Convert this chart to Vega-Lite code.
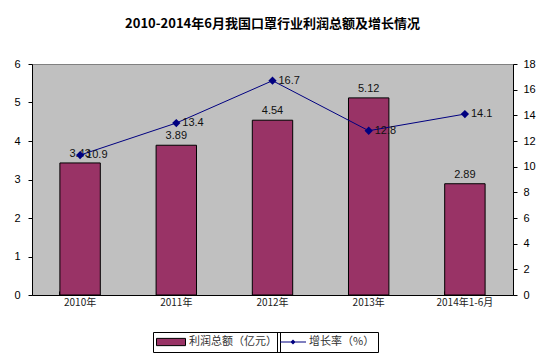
{
  "$schema": "https://vega.github.io/schema/vega-lite/v6.json",
  "width": 481,
  "height": 231,
  "autosize": {"type": "none"},
  "padding": {"left": 32, "top": 64, "right": 38, "bottom": 63},
  "background": "white",
  "title": {
    "text": "2010-2014年6月我国口罩行业利润总额及增长情况",
    "font": "Noto Sans CJK SC",
    "fontSize": 13,
    "fontWeight": "bold",
    "color": "black",
    "anchor": "middle",
    "offset": 27
  },
  "config": {
    "view": {"fill": "#c0c0c0", "stroke": "#808080", "strokeWidth": 1},
    "font": "Liberation Sans",
    "axis": {"grid": false, "domainColor": "black", "tickColor": "black", "labelColor": "black", "labelFont": "Liberation Sans", "labelFontSize": 11, "title": null},
    "legend": {"labelFont": "Noto Sans CJK SC", "labelFontSize": 11, "labelColor": "#333", "labelOffset": 3, "padding": 3, "clipHeight": 14, "strokeColor": "black", "title": null, "orient": "none"}
  },
  "data": {
    "values": [
      {"year": "2010年", "profit": 3.43, "growth": 10.9},
      {"year": "2011年", "profit": 3.89, "growth": 13.4},
      {"year": "2012年", "profit": 4.54, "growth": 16.7},
      {"year": "2013年", "profit": 5.12, "growth": 12.8},
      {"year": "2014年1-6月", "profit": 2.89, "growth": 14.1}
    ]
  },
  "encoding": {
    "x": {
      "field": "year", "type": "nominal", "sort": null,
      "scale": {"paddingInner": 0.58, "paddingOuter": 0.29},
      "axis": {"labelAngle": 0, "labelFont": "Noto Sans CJK SC", "labelFontSize": 10, "labelPadding": 6, "bandPosition": 0, "tickSize": -4, "domainColor": "black", "labelColor": "#222"}
    }
  },
  "layer": [
    {
      "encoding": {
        "y": {"field": "profit", "type": "quantitative", "scale": {"domain": [0, 6]}, "axis": {"orient": "left", "values": [0,1,2,3,4,5,6], "tickSize": 4, "labelPadding": 8, "labelOverlap": false}}
      },
      "layer": [
        {
          "mark": {"type": "bar", "stroke": "black", "strokeWidth": 1},
          "encoding": {
            "fill": {
              "datum": "利润总额（亿元）",
              "type": "nominal",
              "scale": {"domain": ["利润总额（亿元）"], "range": ["#993366"]},
              "legend": {
                "orient": "none",
                "legendX": 121,
                "legendY": 268,
                "symbolType": "M-1,-0.25H1V0.25H-1Z",
                "symbolSize": 841,
                "symbolStrokeColor": "black",
                "symbolStrokeWidth": 1
              }
            }
          }
        },
        {
          "mark": {"type": "text", "dy": -9, "fontSize": 11, "color": "#111", "font": "Liberation Sans"},
          "encoding": {
            "text": {"field": "profit", "type": "quantitative", "format": ".2f"}
          }
        }
      ]
    },
    {
      "encoding": {
        "y": {"field": "growth", "type": "quantitative", "scale": {"domain": [0, 18]}, "axis": {"orient": "right", "values": [0,2,4,6,8,10,12,14,16,18], "tickSize": 4, "labelPadding": 6, "labelOverlap": false}}
      },
      "layer": [
        {
          "mark": {"type": "line", "strokeWidth": 1, "point": {"shape": "diamond", "size": 30, "filled": true, "color": "#000080"}},
          "encoding": {
            "stroke": {
              "datum": "增长率（%）",
              "type": "nominal",
              "scale": {"domain": ["增长率（%）"], "range": ["#000080"]},
              "legend": {
                "orient": "none",
                "legendX": 245,
                "legendY": 268,
                "symbolType": "M-1,-0.04H1V0.04H-1Z M-0.2,0L0,-0.2L0.2,0L0,0.2Z",
                "symbolSize": 676,
                "symbolFillColor": "#000080",
                "symbolStrokeWidth": 0
              }
            }
          }
        },
        {
          "mark": {"type": "text", "align": "left", "dx": 6, "fontSize": 11, "color": "#111", "font": "Liberation Sans"},
          "encoding": {
            "text": {"field": "growth", "type": "quantitative", "format": ".1f"}
          }
        }
      ]
    }
  ],
  "resolve": {"scale": {"y": "independent"}}
}
